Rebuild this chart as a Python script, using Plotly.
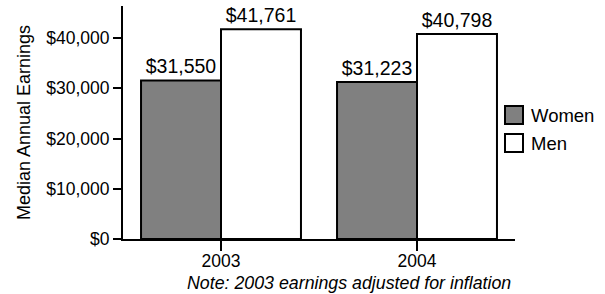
import plotly.graph_objects as go

years = ["2003", "2004"]
series_names = ["Women", "Men"]
women = [31550, 31223]
men = [41761, 40798]
y_ticks = [0, 10000, 20000, 30000, 40000]
y_tick_labels = ["$0", "$10,000", "$20,000", "$30,000", "$40,000"]
note = "Note: 2003 earnings adjusted for inflation"

def money(v):
    return "${:,}".format(v)

font = "Liberation Sans, Arial, sans-serif"
colors = {"Women": "#808080", "Men": "white"}

# plot area in page pixels
L, R, T, B = 123, 515, 6, 239
def px(x):
    return (x - L) / (R - L)
def py(y):
    return (B - y) / (B - T)

fig = go.Figure()
for name, vals in zip(series_names, [women, men]):
    fig.add_trace(go.Bar(
        name=name, x=years, y=vals,
        marker=dict(color=colors[name], line=dict(color="black", width=2)),
        text=[money(v) for v in vals], textposition="outside",
        textfont=dict(size=19.5, color="black", family=font),
        cliponaxis=False, showlegend=False, hoverinfo="skip",
    ))

shapes = []
annotations = [dict(
    text=note, xref="paper", yref="paper", x=px(513), y=py(283),
    xanchor="right", yanchor="middle", showarrow=False,
    font=dict(size=17.8, family=font, style="italic"),
)]
for i, name in enumerate(series_names):
    top = 106 + 28 * i
    shapes.append(dict(type="rect", xref="paper", yref="paper",
                       x0=px(505), x1=px(523), y0=py(top), y1=py(top + 18),
                       fillcolor=colors[name], line=dict(color="black", width=2)))
    annotations.append(dict(text=name, xref="paper", yref="paper",
                            x=px(529), y=py(top + 9), xanchor="left", yanchor="middle",
                            showarrow=False, font=dict(size=18.5, family=font)))

fig.update_layout(
    width=605, height=294,
    margin=dict(l=L, r=605 - R, t=T, b=294 - B),
    paper_bgcolor="white", plot_bgcolor="white",
    barmode="group", bargap=0.184, bargroupgap=0,
    font=dict(family=font, size=18, color="black"),
    showlegend=False,
    shapes=shapes, annotations=annotations,
)
fig.update_xaxes(
    type="category", range=[-0.5, 1.5],
    showline=True, linecolor="black", linewidth=2,
    ticks="outside", ticklen=10, tickwidth=2, tickcolor="black",
    tickfont=dict(size=17.5), showgrid=False, ticklabelstandoff=-5,
)
fig.update_yaxes(
    range=[0, 46370], tickvals=y_ticks, ticktext=y_tick_labels,
    showline=True, linecolor="black", linewidth=2,
    ticks="outside", ticklen=8, tickwidth=2, tickcolor="black",
    tickfont=dict(size=17.5), showgrid=False, zeroline=False,
    title=dict(text="Median Annual Earnings", font=dict(size=18), standoff=11),
)

fig.write_html("out.html", config={"displayModeBar": False},
               post_script="document.body.style.margin='0';document.body.style.overflow='hidden';")
